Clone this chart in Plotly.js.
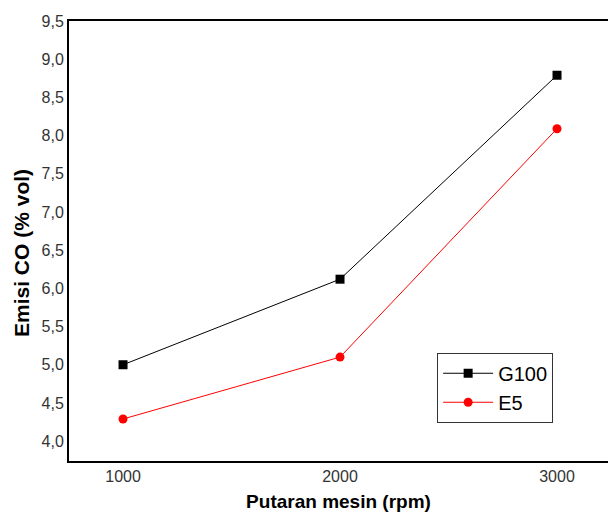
<!DOCTYPE html>
<html><head><meta charset="utf-8">
<script src="https://cdn.plot.ly/plotly-3.0.1.min.js"></script>
<style>html,body{margin:0;padding:0;background:#fff;}#c{width:608px;height:513px;}</style>
</head><body><div id="c"></div>
<script>
const rpm = [1000, 2000, 3000];
const g100 = [5.0, 6.12, 8.79];
const e5 = [4.29, 5.1, 8.09];
const yTicks = [4.0,4.5,5.0,5.5,6.0,6.5,7.0,7.5,8.0,8.5,9.0,9.5];
const yTickText = yTicks.map(v => v.toFixed(1).replace('.', ','));

const traces = [
  {x: rpm, y: g100, name: 'G100', mode: 'lines+markers', type: 'scatter',
   line: {color: '#000', width: 1}, marker: {symbol: 'square', size: 9, color: '#000'}},
  {x: rpm, y: e5, name: 'E5', mode: 'lines+markers', type: 'scatter',
   line: {color: '#ff0000', width: 1}, marker: {symbol: 'circle', size: 9, color: '#ff0000'}}
];
const layout = {
  width: 608, height: 513,
  margin: {l: 69, r: 0, t: 21, b: 52},
  paper_bgcolor: '#fff', plot_bgcolor: '#fff',
  font: {family: 'Liberation Sans, Arial, sans-serif', color: '#222'},
  showlegend: true,
  legend: {x: 0.683, y: 0.246, xanchor: 'left', yanchor: 'top',
    bordercolor: '#333', borderwidth: 1, bgcolor: '#fff',
    font: {size: 20, color: '#000'}, tracegroupgap: 0, itemwidth: 50},
  xaxis: {range: [751, 3235], tickvals: rpm, ticktext: rpm.map(String),
    showgrid: false, zeroline: false, showline: true, linecolor: '#000', linewidth: 2,
    mirror: true, ticks: '', tickfont: {size: 16, color: '#333'},
    title: {text: '<b>Putaran mesin (rpm)</b>', font: {size: 19, color: '#000'}, standoff: 10}},
  yaxis: {range: [3.74, 9.5], tickvals: yTicks, ticktext: yTickText,
    showgrid: false, zeroline: false, showline: true, linecolor: '#000', linewidth: 2,
    ticks: '', tickfont: {size: 16, color: '#333'}},
  annotations: [{text: '<b>Emisi CO (% vol)</b>', textangle: -90, showarrow: false,
    xref: 'paper', yref: 'paper', x: -0.087, y: 0.473, xanchor: 'center', yanchor: 'middle',
    font: {size: 21, color: '#000'}}]
};
Plotly.newPlot('c', traces, layout, {displayModeBar: false, staticPlot: true});
</script></body></html>
